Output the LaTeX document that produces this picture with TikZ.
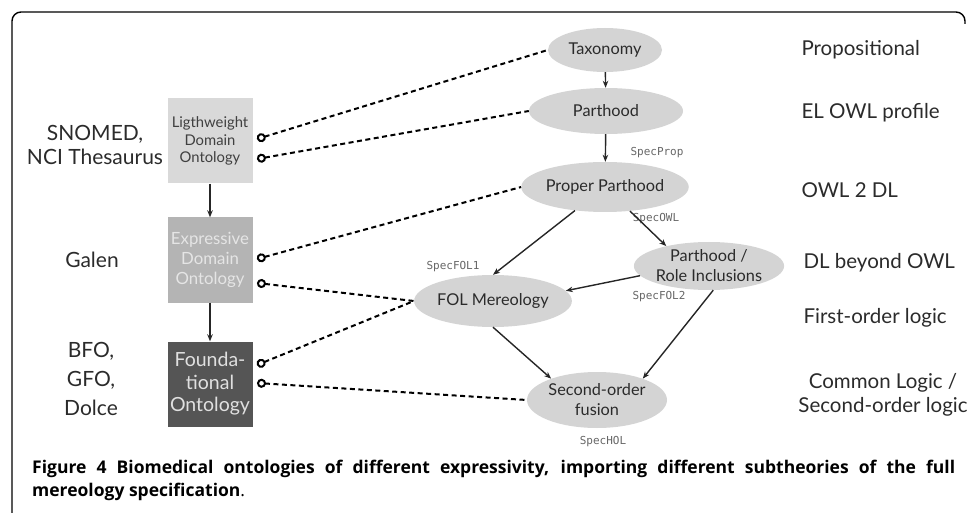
\documentclass[tikz,border=0pt]{standalone}
\usepackage{fontspec}
\setmainfont{Lato}
\setmonofont{DejaVu Sans Mono}
\newfontfamily\capfont{Open Sans}
\usetikzlibrary{shapes.geometric,arrows.meta}

\definecolor{ellfill}{HTML}{D4D4D4}
\definecolor{lightbox}{HTML}{D9D9D9}
\definecolor{midbox}{HTML}{B4B4B4}
\definecolor{darkbox}{HTML}{555555}
\definecolor{inktext}{HTML}{2B2B2B}

\tikzset{
  theory/.style={ellipse, fill=ellfill, text=inktext, inner sep=0pt, align=center,
    font=\fontsize{16.3}{20}\selectfont},
  onto/.style={rectangle, minimum width=85pt, minimum height=85pt, inner sep=0pt, align=center},
  spec/.style={font=\ttfamily\fontsize{11}{12}\selectfont, text=black!60},
  logic/.style={anchor=west, font=\fontsize{20.5}{24}\selectfont, text=inktext},
  users/.style={align=center, font=\fontsize{21}{24}\selectfont, text=inktext},
  flow/.style={-{Stealth[length=7pt,width=5.5pt]}, line width=1.4pt, color=black!85},
  imports/.style={line width=2pt, dash pattern=on 5pt off 3.5pt,
    arrows={{Circle[open,length=9pt,width=9pt]}-}}
}

\begin{document}
\begin{tikzpicture}[x=1pt,y=-1pt]
  \useasboundingbox (0,0) rectangle (967,513);
  \draw[line width=1.4pt, rounded corners=9pt] (12,513) -- (12,12) -- (965,12) -- (965,24);

  % theories
  \node[theory, minimum width=114pt, minimum height=44pt] (Tax) at (605,50) {Taxonomy};
  \node[theory, minimum width=154pt, minimum height=46pt] (Part) at (606,111) {Parthood};
  \node[theory, minimum width=140pt, minimum height=50pt] (PropPart) at (605,187) {Proper Parthood};
  \node[theory, minimum width=144pt, minimum height=48pt] (RoleIncl) at (709,266) {Parthood /\\Role Inclusions};
  \node[theory, minimum width=144pt, minimum height=52pt] (FOL) at (493,301) {FOL Mereology};
  \node[theory, minimum width=140pt, minimum height=56pt] (SOF) at (597,400) {Second-order\\fusion};

  \node[spec] (SpecProp) at (657,153) {SpecProp};
  \node[spec] (SpecOWL) at (656,219) {SpecOWL};
  \node[spec] (SpecFOL1) at (453,267) {SpecFOL1};
  \node[spec] (SpecFOL2) at (659,297) {SpecFOL2};
  \node[spec] (SpecHOL) at (603,442) {SpecHOL};

  % ontologies
  \node[onto, fill=lightbox, text=black!75, font=\fontsize{14.8}{17.5}\selectfont] (LDO) at (210,141) {Ligthweight\\Domain\\Ontology};
  \node[onto, fill=midbox, text=white!90!black, font=\fontsize{16.8}{20}\selectfont] (EDO) at (210,260) {Expressive\\Domain\\Ontology};
  \node[onto, fill=darkbox, text=white!88!black, font=\fontsize{19.5}{22.5}\selectfont] (FO) at (210,384) {Founda-\\tional\\Ontology};

  \node[users] (Snomed) at (95,145) {SNOMED,\\NCI Thesaurus};
  \node[users] (Galen) at (92,260) {Galen};
  \node[users, font=\fontsize{21}{29}\selectfont] (BFO) at (91,379) {BFO,\\GFO,\\Dolce};

  % logics
  \node[logic] (Prop) at (798,50) {Propositional};
  \node[logic] (EL) at (798,113) {EL OWL profile};
  \node[logic] (OWL) at (798,190) {OWL 2 DL};
  \node[logic] (DL) at (800,263) {DL beyond OWL};
  \node[logic] (FO1) at (800,318) {First-order logic};
  \node[users, font=\fontsize{20.5}{24}\selectfont] (CL) at (883,395) {Common Logic /\\Second-order logic};

  % import ends
  \coordinate (LDOa) at (257,139);
  \coordinate (LDOb) at (257,159);
  \coordinate (EDOa) at (257,259);
  \coordinate (EDOb) at (257,283);
  \coordinate (FOa) at (257,365);
  \coordinate (FOb) at (257,383);

  \path[flow] (Tax) edge (Part);
  \path[flow] (Part) edge (PropPart);
  \path[flow] (PropPart) edge (FOL.north);
  \path[flow] (PropPart) edge (RoleIncl.155);
  \path[flow] (RoleIncl.188) edge (FOL.8);
  \path[flow] (FOL.south) edge (SOF.155);
  \path[flow] (RoleIncl.280) edge (SOF.25);
  \path[flow] (LDO) edge (EDO);
  \path[flow] (EDO) edge (FO);

  \path[imports] (LDOa) edge (Tax.west);
  \path[imports] (LDOb) edge (Part.west);
  \path[imports] (EDOa) edge (PropPart.west);
  \path[imports] (EDOb) edge (FOL.west);
  \path[imports] (FOa) edge (FOL.west);
  \path[imports] (FOb) edge (SOF.west);

  % caption
  \node[anchor=north west, text width=923pt, align=justify, inner sep=0pt,
    font=\capfont\bfseries\fontsize{17.5}{23}\selectfont] (Caption) at (32,460)
    {Figure 4 Biomedical ontologies of different expressivity, importing different subtheories of the full\linebreak mereology specification\mdseries.};
\end{tikzpicture}
\end{document}
